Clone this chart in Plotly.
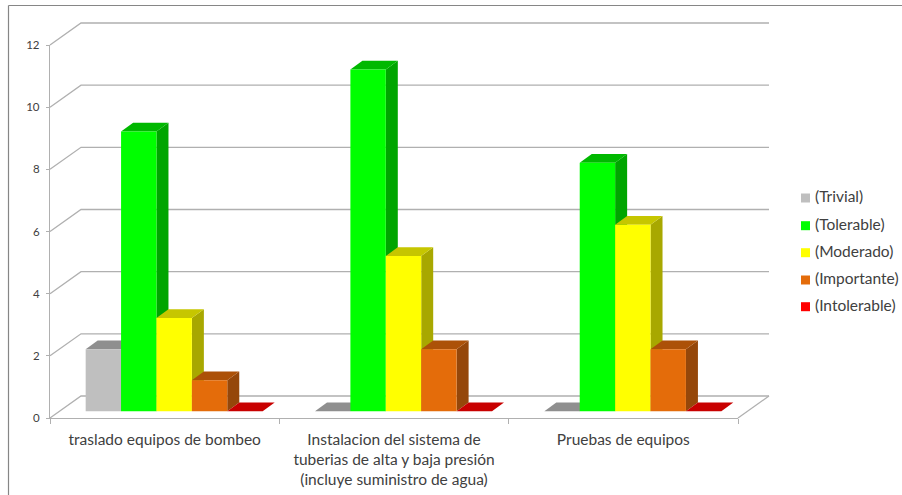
import plotly.graph_objects as go

categories = [
    "traslado equipos de bombeo",
    "Instalacion del sistema de<br>tuberias de alta y baja presión<br>(incluye suministro de agua)",
    "Pruebas de equipos",
]
series_names = ["(Trivial)", "(Tolerable)", "(Moderado)", "(Importante)", "(Intolerable)"]
trivial = [2, 0, 0]
tolerable = [9, 11, 8]
moderado = [3, 5, 6]
importante = [1, 2, 2]
intolerable = [0, 0, 0]
series_values = [trivial, tolerable, moderado, importante, intolerable]
y_ticks = [0, 2, 4, 6, 8, 10, 12]

front_colors = ["#bfbfbf", "#00ff00", "#ffff00", "#e46c0a", "#ff0000"]
top_colors = ["#8f8f8f", "#00b800", "#c6c600", "#ac5108", "#c80000"]
side_colors = ["#8f8f8f", "#00a500", "#a8a800", "#95470a", "#a00000"]

# Front plane of the 3-D box, in pixels.
WIDTH, HEIGHT = 902, 495
LEFT, RIGHT, TOP, BOTTOM = 50, 738, 45, 418
px_per_cat = (RIGHT - LEFT) / 3
px_per_val = (BOTTOM - TOP) / 12


def cat_at(px):
    return (px - LEFT) / px_per_cat - 0.5


def val_at(py):
    return (BOTTOM - py) / px_per_val


# Oblique projection offsets, converted from pixels to axis units.
wall_dx = 31 / px_per_cat
wall_dy = 22 / px_per_val
bar_x0 = 9.5 / px_per_cat
bar_y0 = 6.7 / px_per_val
bar_dx = 12 / px_per_cat
bar_dy = 8.7 / px_per_val
bar_w = 35.4 / px_per_cat

GRID = "#b0b0b0"
fig = go.Figure()

# Floor outline, side wall diagonals and back wall gridlines.
x_lo, x_hi = -0.5, 2.5
grid_x, grid_y = [], []
for t in y_ticks:
    grid_x += [x_lo, x_lo + wall_dx, x_hi + wall_dx, None]
    grid_y += [t, t + wall_dy, t + wall_dy, None]
grid_x += [x_hi, x_hi + wall_dx, None]
grid_y += [0, wall_dy, None]
fig.add_trace(go.Scatter(x=grid_x, y=grid_y, mode="lines", line=dict(color=GRID, width=1.3),
                         hoverinfo="skip", showlegend=False))

# Tops and right-hand sides, painted left to right so each bar hides its neighbour.
for g in range(len(categories)):
    for s, values in enumerate(series_values):
        v = values[g]
        x0 = g + bar_x0 + (s - 2.5) * bar_w
        x1 = x0 + bar_w
        y0 = bar_y0
        y1 = bar_y0 + v
        if v > 0:
            fig.add_trace(go.Scatter(
                x=[x1, x1 + bar_dx, x1 + bar_dx, x1, x1],
                y=[y0, y0 + bar_dy, y1 + bar_dy, y1, y0],
                mode="lines", fill="toself", fillcolor=side_colors[s],
                line=dict(width=0, color=side_colors[s]),
                hoverinfo="skip", showlegend=False))
        fig.add_trace(go.Scatter(
            x=[x0, x1, x1 + bar_dx, x0 + bar_dx, x0],
            y=[y1, y1, y1 + bar_dy, y1 + bar_dy, y1],
            mode="lines", fill="toself", fillcolor=top_colors[s],
            line=dict(width=0, color=top_colors[s]),
            hoverinfo="skip", showlegend=False))

# Front faces sit on the second subplot, above every top and side.
for s, values in enumerate(series_values):
    fig.add_trace(go.Bar(
        x=list(range(len(categories))), y=values, base=bar_y0,
        width=bar_w, offset=bar_x0 + (s - 2.5) * bar_w,
        marker=dict(color=front_colors[s], line=dict(width=0)),
        name=series_names[s], showlegend=False, xaxis="x2", yaxis="y2",
        hovertemplate="%{x}: %{y}<extra>" + series_names[s] + "</extra>"))

# Key on the right: one square and one label per series.
TEXT = dict(family="Lato", size=15.5, color="#404040")
key_rows = [198, 225.7, 252.7, 280, 306.7]
fig.add_trace(go.Scatter(
    x=[cat_at(805.5)] * len(series_names), y=[val_at(r) for r in key_rows],
    mode="markers", marker=dict(symbol="square", size=9, color=front_colors),
    hoverinfo="skip", showlegend=False))
fig.add_trace(go.Scatter(
    x=[cat_at(815)] * len(series_names), y=[val_at(r) for r in key_rows],
    mode="text", text=series_names, textposition="middle right", textfont=TEXT,
    hoverinfo="skip", showlegend=False))

# Chart frame, open to the right and bottom.
for x0, y0, x1, y1 in [(8.5, HEIGHT, 8.5, 5.5), (8.5, 5.5, WIDTH, 5.5)]:
    fig.add_shape(type="line", xref="paper", yref="paper",
                  x0=x0 / WIDTH, y0=1 - y0 / HEIGHT, x1=x1 / WIDTH, y1=1 - y1 / HEIGHT,
                  line=dict(color="#868686", width=1.2))

fig.update_layout(
    width=WIDTH, height=HEIGHT, autosize=False,
    margin=dict(l=0, r=0, t=0, b=0, autoexpand=False),
    paper_bgcolor="white", plot_bgcolor="rgba(0,0,0,0)",
    barmode="overlay", font=TEXT, showlegend=False,
    # Whole-canvas axes carrying the projected faces and the walls.
    xaxis=dict(domain=[0, 1], range=[cat_at(0), cat_at(WIDTH)], visible=False),
    yaxis=dict(domain=[0, 1], range=[val_at(HEIGHT), val_at(0)], visible=False),
    # Visible axes along the front plane.
    xaxis2=dict(domain=[LEFT / WIDTH, RIGHT / WIDTH], anchor="y2", range=[x_lo, x_hi],
                tickmode="array", tickvals=[0, 1, 2], ticktext=categories,
                ticklen=0, showgrid=False, zeroline=False, showline=True,
                linecolor=GRID, linewidth=1.3, tickfont=TEXT, ticklabelstandoff=7,
                minor=dict(tickmode="array", tickvals=[-0.5, 0.5, 1.5, 2.5], ticks="outside",
                           ticklen=5, tickcolor=GRID, tickwidth=1.3, showgrid=False)),
    yaxis2=dict(domain=[1 - BOTTOM / HEIGHT, 1 - TOP / HEIGHT], anchor="x2", range=[0, 12],
                tickmode="array", tickvals=y_ticks, ticks="outside",
                ticklen=3, tickcolor=GRID, tickwidth=1.3, showgrid=False, zeroline=False,
                showline=True, linecolor=GRID, linewidth=1.3,
                tickfont=dict(family="Lato", size=11.5, color="#404040"), ticklabelstandoff=4),
)

fig.write_html("out.html", config=dict(displayModeBar=False, responsive=False))
